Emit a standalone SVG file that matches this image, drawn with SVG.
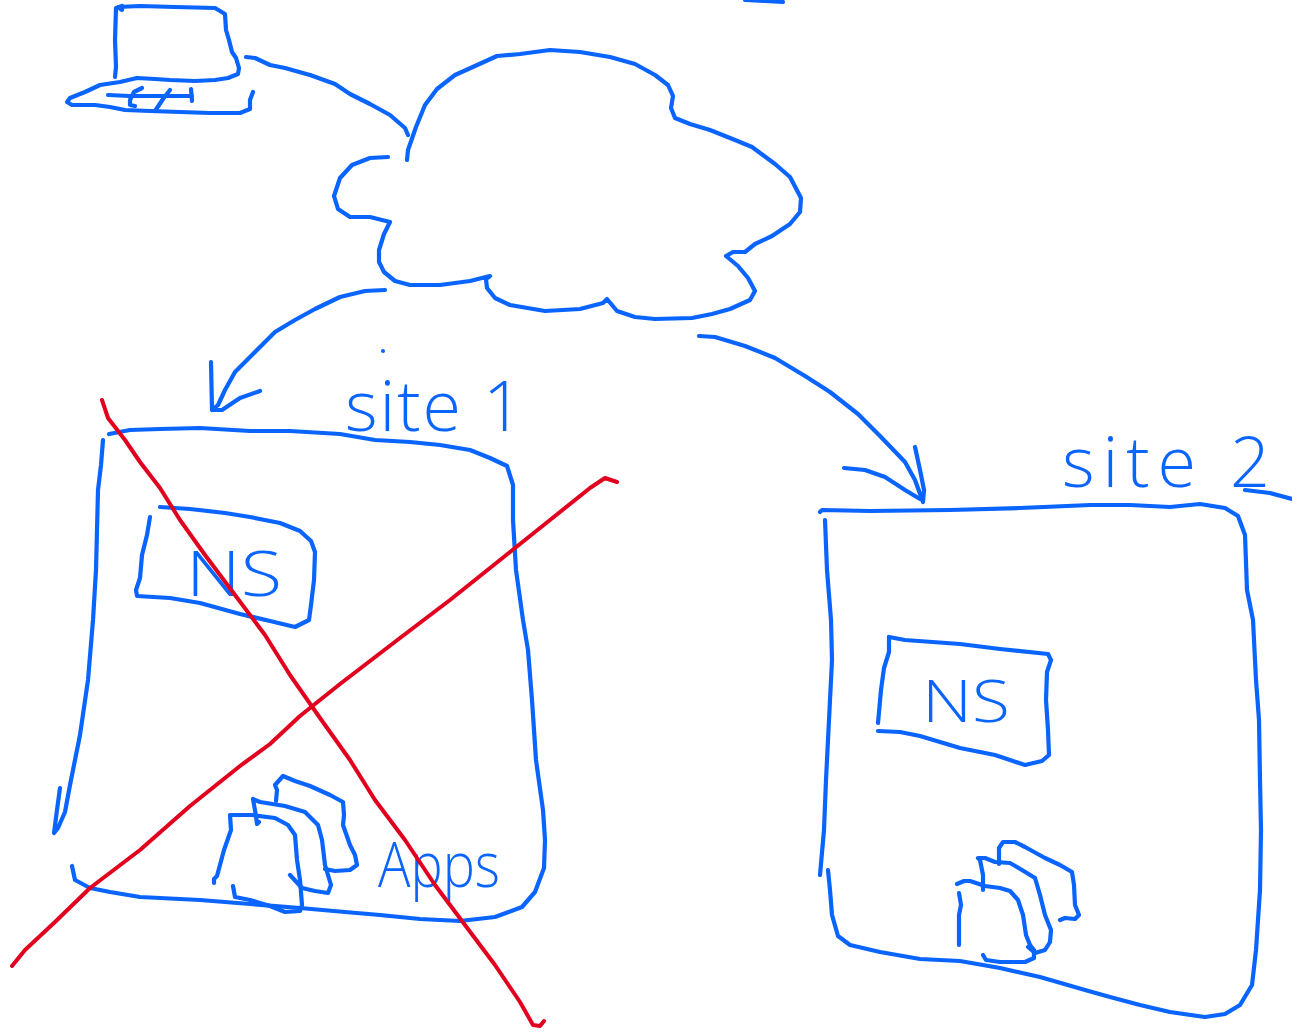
<svg xmlns="http://www.w3.org/2000/svg" width="1292" height="1032" viewBox="0 0 1292 1032">
<style>
.s{fill:none;stroke:#0a64ff;stroke-width:4.2;stroke-linecap:round;stroke-linejoin:round}
.r{fill:none;stroke:#e2001f;stroke-width:4;stroke-linecap:round;stroke-linejoin:round}
.t{fill:#0a64ff;font-family:"Open Sans","Liberation Sans",Arial,sans-serif;font-weight:300}
</style>
<rect width="1292" height="1032" fill="#fff"/>
<g id="top-mark"><polyline class="s" points="745,0 765,1 783,2"/></g>
<g id="laptop">
<polyline class="s" points="115,77 116,67 115,40 116,8 122,6 122,10 118,7 140,6 175,7 215,8 225,14 226,30 229,40 232,52 236,58 239,68 238,74 228,78 215,80 195,81 170,80 155,79 137,78 120,82 100,85 85,92 70,98 67,102 72,105 95,105 110,107 125,110 150,111 180,112 210,113 240,113 250,109 250,100 253,92"/>
<polyline class="s" points="108,95 130,96 160,96 192,96"/>
<polyline class="s" points="191,89 192,101"/>
<polyline class="s" points="142,88 134,92 130,100 130,105 135,106"/>
<polyline class="s" points="170,90 163,99 155,111"/>
</g>
<g id="cloud">
<polyline class="s" points="407,160 408,150 416,127 425,105 437,89 455,75 475,66 497,56 520,54 550,50 580,52 610,57 635,64 655,75 668,85 673,96 671,108 675,118 690,124 710,130 735,140 752,147 775,164 790,177 801,198 800,212 790,224 772,236 755,244 745,252 733,252 726,256 738,266 748,278 755,291 750,300 730,309 712,314 692,318 655,319 635,317 617,311 607,299 603,303 580,309 545,311 510,305 495,298 487,288 486,279 490,276 470,281 440,285 410,285 395,281 384,272 379,262 379,250 384,234 390,222 370,217 350,217 338,209 334,196 340,178 352,165 370,158 388,157"/>
</g>
<g id="site1-box">
<polyline class="s" points="109,434 130,430 160,429 200,428 250,431 290,431 340,434 375,440 410,442 440,445 470,450 490,458 507,466 513,485 513,520 516,570 523,620 528,650 532,700 536,760 543,810 545,840 544,868 535,892 522,907 495,917 460,921 420,919 380,915 345,912 300,908 250,904 200,900 140,897 110,892 90,888 75,880 72,866"/>
<polyline class="s" points="103,440 101,465 98,490 96,570 93,620 88,680 80,735 70,785 65,812 58,828 54,833 57,810 60,788"/>
</g>
<g id="site1-ns">
<polyline class="s" points="160,507 190,509 225,513 250,517 280,523 300,531 311,541 315,552 314,580 311,605 309,620 295,627 270,621 240,614 200,603 170,598 137,596 136,590 140,578 142,555 147,535 150,517"/>
<text class="t" x="186" y="596" font-size="62" textLength="96" lengthAdjust="spacingAndGlyphs">NS</text>
</g>
<g id="site1-apps">
<polyline class="s" points="214,883 214,879 217,876 224,850 231,830 230,815 252,815 275,818 288,825 295,835 297,860 300,880 302,905 300,911 285,912 270,906 250,900 235,897 233,886"/>
<polyline class="s" points="290,875 302,888 315,891 328,893 331,885 325,865 322,840 318,825 305,812 285,806 260,802 253,799 256,816 257,824 259,822"/>
<polyline class="s" points="276,801 277,790 275,785 283,776 295,781 310,786 330,795 343,802 344,815 343,825 350,845 355,855 357,865 350,870 335,871 325,869"/>
<text class="t" x="378" y="887" font-size="62" textLength="122" lengthAdjust="spacingAndGlyphs">Apps</text>
</g>
<g id="site1-label"><text class="t" x="345" y="431" font-size="70" textLength="178" lengthAdjust="spacing">site 1</text></g>
<g id="site2-box">
<polyline class="s" points="820,512 822,510 870,511 950,510 1020,508 1090,505 1130,505 1170,507 1200,504 1225,508 1238,516 1245,535 1247,590 1253,620 1256,680 1259,720 1260,780 1261,830 1260,890 1256,950 1252,985 1240,1005 1225,1014 1205,1017 1170,1012 1140,1005 1110,997 1085,990 1040,977 1000,968 960,961 920,959 880,952 850,945 838,936 832,915 830,890 828,870"/>
<polyline class="s" points="825,520 827,570 831,620 832,660 829,720 826,780 824,830 820,875"/>
</g>
<g id="site2-ns">
<polyline class="s" points="889,637 905,640 960,644 1000,649 1048,654 1051,660 1047,672 1046,700 1048,730 1049,755 1042,761 1025,765 995,755 960,748 920,736 900,732 878,731"/>
<polyline class="s" points="878,723 881,690 884,668 889,652 889,637"/>
<text class="t" x="922" y="722" font-size="58" textLength="88" lengthAdjust="spacingAndGlyphs">NS</text>
</g>
<g id="site2-apps">
<polyline class="s" points="957,884 964,881 970,881 985,886 1000,888 1010,891 1018,900 1023,915 1026,935 1030,945 1034,950 1034,958 1025,962 1000,962 986,960 983,955"/>
<polyline class="s" points="959,893 961,905 959,915 959,945"/>
<polyline class="s" points="983,890 983,875 980,860 978,858 985,858 995,862 1010,863 1022,870 1035,878 1040,895 1045,915 1051,930 1050,942 1045,950 1035,953 1028,947"/>
<polyline class="s" points="999,864 999,848 1003,842 1015,842 1025,847 1045,858 1060,865 1072,872 1074,885 1075,905 1079,915 1075,919 1065,918 1060,920"/>
</g>
<g id="site2-label"><text class="t" x="1062" y="487" font-size="70" textLength="208" lengthAdjust="spacing">site 2</text>
<polyline class="s" points="1245,490 1270,493 1292,499"/></g>
<g id="connectors">
<polyline class="s" points="246,57 255,58 270,65 285,68 310,75 335,84 350,94 370,104 390,115 405,128 408,135"/>
<polyline class="s" points="385,290 365,291 340,297 315,309 295,320 275,332 255,352 235,372 225,390 218,405 212,410 211,362"/>
<polyline class="s" points="213,410 222,410 240,398 260,391"/>
<circle cx="383" cy="351" r="2" fill="#0a64ff"/>
<polyline class="s" points="699,336 715,337 745,346 775,358 805,376 830,392 858,414 880,436 905,462 915,480 923,502 924,490 920,470 915,447"/>
<polyline class="s" points="844,468 865,470 885,477 905,490 920,499"/>
<polyline class="r" points="102,400 108,418 125,440 140,462 160,488 180,520 205,555 235,595 265,635 290,675 320,718 350,760 375,800 405,840 435,885 465,925 495,965 520,1002 533,1025 540,1026 544,1021"/>
<polyline class="r" points="12,966 25,950 55,922 90,888 140,850 190,806 240,766 270,744 300,716 340,684 400,638 450,600 510,552 560,512 590,488 605,478 617,482"/>
</g>
</svg>
